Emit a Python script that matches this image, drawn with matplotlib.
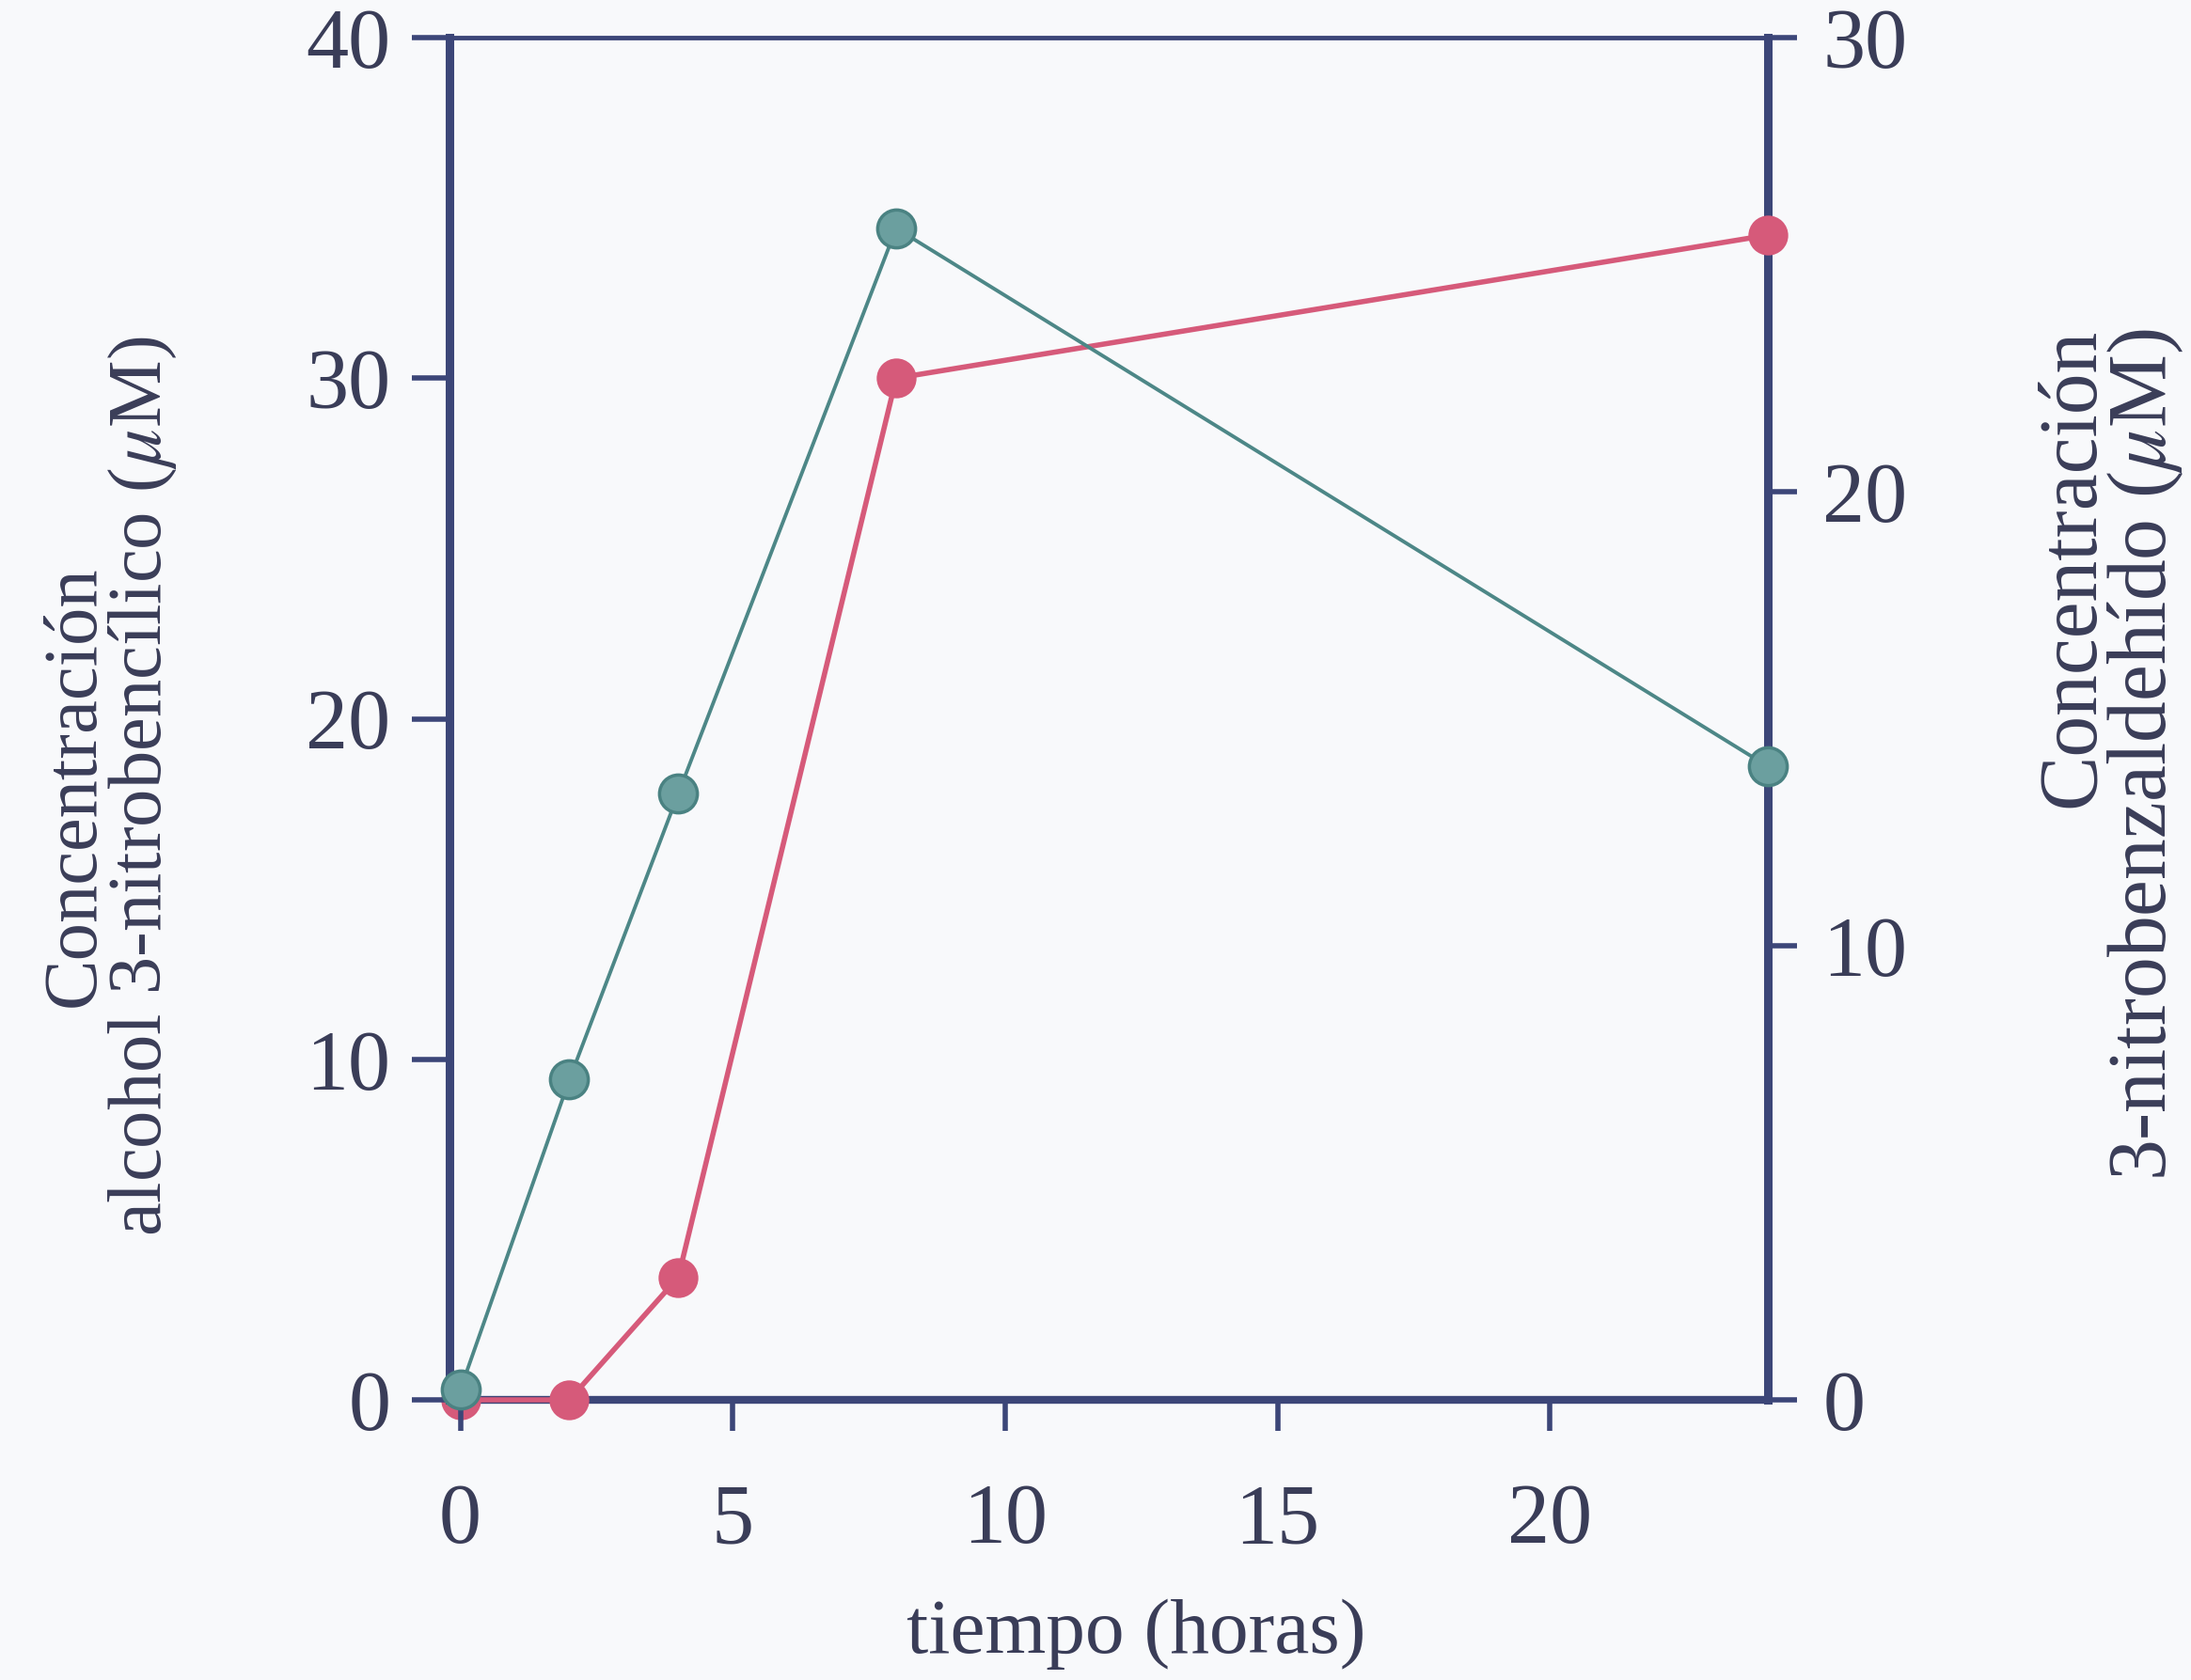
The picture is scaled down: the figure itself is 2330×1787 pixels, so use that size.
import matplotlib
matplotlib.use("Agg")
import matplotlib.pyplot as plt

# ---- data ----
tiempo = [0, 2, 4, 8, 24]
alcohol_uM = [0.3, 9.4, 17.8, 34.4, 18.6]          # left axis (green)
aldehido_uM = [0.0, 0.0, 2.7, 22.5, 25.65]          # right axis (red)

x_ticks = [0, 5, 10, 15, 20]
left_ticks = [0, 10, 20, 30, 40]
right_ticks = [0, 10, 20, 30]

xlabel = "tiempo (horas)"
left_label = "Concentración\nalcohol 3-nitrobencílico ($\\mu$M)"
right_label = "Concentración\n3-nitrobenzaldehído ($\\mu$M)"

# ---- style ----
plt.rcParams['font.family'] = ['Liberation Serif', 'DejaVu Serif']
plt.rcParams['mathtext.fontset'] = 'stix'
bg = '#f8f9fb'
axis_col = '#3c4678'
text_col = '#3a3d58'
green_line = '#4d8787'
green_face = '#6b9f9f'
green_edge = '#4a8282'
red_col = '#d65a7a'

fig = plt.figure(figsize=(23.3, 17.87), dpi=100, facecolor=bg)
W, H = 2330, 1787
left, right, top, bottom = 478, 1880, 40, 1489
rect = [left / W, 1 - bottom / H, (right - left) / W, (bottom - top) / H]

# base axes: red series, right y axis, bottom/top/right spines
ax2 = fig.add_axes(rect)
# top layer axes: green series, left y axis, x ticks
ax = fig.add_axes(rect, sharex=ax2)
ax.patch.set_visible(False)
ax2.set_facecolor(bg)
ax.set_zorder(ax2.get_zorder() + 1)

xlim = (-0.2, 24)
ax2.set_xlim(*xlim)
ax.set_ylim(0, 40)
ax2.set_ylim(0, 30)

ax.plot(tiempo, alcohol_uM, color=green_line, lw=2.8, marker='o', ms=29,
        mfc=green_face, mec=green_edge, mew=2.5, clip_on=False, zorder=5)
ax2.plot(tiempo, aldehido_uM, color=red_col, lw=4.0, marker='o', ms=29,
         mfc=red_col, mec=red_col, mew=1.5, clip_on=False, zorder=5)

for s in ['top', 'right', 'bottom']:
    ax.spines[s].set_visible(False)
ax.spines['left'].set_color(axis_col)
ax.spines['left'].set_linewidth(6.5)
ax2.spines['left'].set_visible(False)
for s, w in [('top', 3.5), ('right', 6.5), ('bottom', 6.0)]:
    ax2.spines[s].set_color(axis_col)
    ax2.spines[s].set_linewidth(w)

fs_tick = 65
ax.yaxis.set_ticks_position('left')
ax.set_yticks(left_ticks)
ax.tick_params(axis='y', direction='out', length=29, width=4, color=axis_col,
               labelsize=fs_tick, labelcolor=text_col, pad=16)
ax.set_xticks(x_ticks)
ax.xaxis.set_ticks_position('bottom')
ax.tick_params(axis='x', direction='out', length=24, width=4, color=axis_col,
               labelsize=fs_tick, labelcolor=text_col, pad=40)
ax2.yaxis.set_ticks_position('right')
ax2.set_yticks(right_ticks)
ax2.tick_params(axis='y', direction='out', length=22, width=4, color=axis_col,
                labelsize=fs_tick, labelcolor=text_col, pad=20)
ax2.tick_params(axis='x', which='both', bottom=False, labelbottom=False)

ax.set_xlabel(xlabel, fontsize=60, color=text_col)
ax.xaxis.set_label_coords(0.521, -0.172)
ax.xaxis.label.set_va('center')

fig.text(117 / W, 1 - 836 / H, left_label, rotation=90, ha='center', va='center',
         multialignment='center', fontsize=58, color=text_col, linespacing=0.95)
fig.text(2244 / W, 1 - 349 / H, right_label, rotation=90, ha='center', va='top',
         multialignment='right', fontsize=63, color=text_col, linespacing=0.92)

fig.savefig('out.png', dpi=100, facecolor=bg)
